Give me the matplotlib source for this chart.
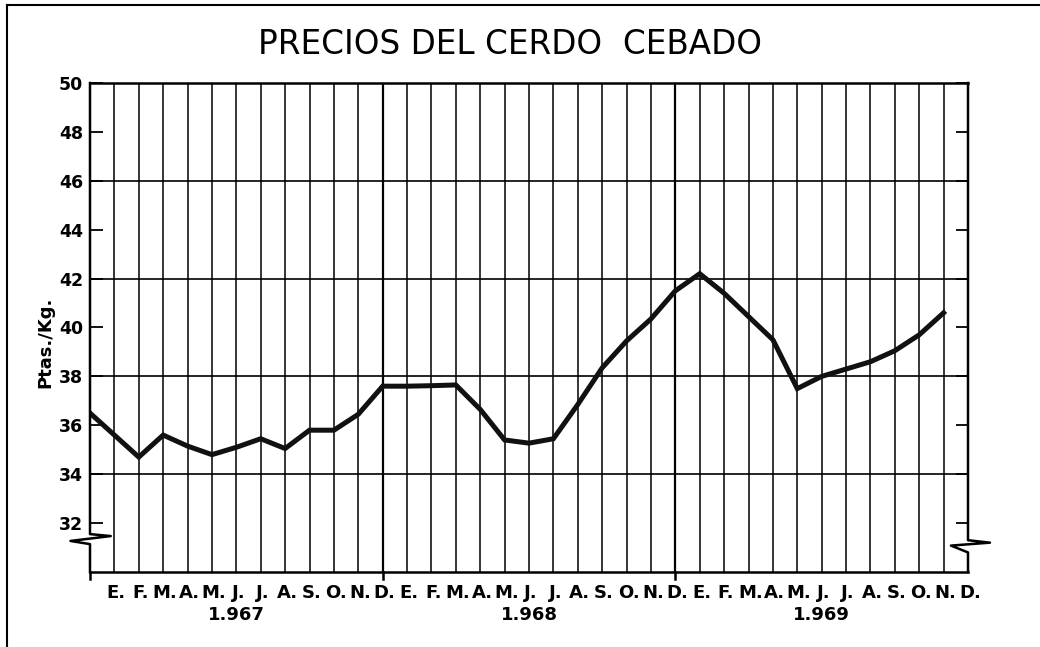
import numpy as np
import matplotlib
matplotlib.use("Agg")
import matplotlib.pyplot as plt
import matplotlib.transforms as mtransforms

# Datos: precio mensual (Ptas./Kg.), desde dic. 1966 hasta nov. 1969
precios = [36.5, 35.6, 34.7, 35.6, 35.15, 34.8, 35.1, 35.45, 35.05, 35.8, 35.8, 36.45,
           37.6, 37.6, 37.62, 37.65, 36.65, 35.4, 35.27, 35.45, 36.85, 38.35, 39.45, 40.35,
           41.5, 42.2, 41.4, 40.45, 39.5, 37.5, 38.0, 38.3, 38.6, 39.05, 39.7, 40.6]
meses = ['E.', 'F.', 'M.', 'A.', 'M.', 'J.', 'J.', 'A.', 'S.', 'O.', 'N.', 'D.']
anios = ['1.967', '1.968', '1.969']
y_ticks = [32, 34, 36, 38, 40, 42, 44, 46, 48, 50]
y_grid = [34, 38, 42, 46]

n_meses = len(meses) * len(anios)
x = np.arange(len(precios))

fig = plt.figure(figsize=(10.4, 6.47), dpi=100)
ax = fig.add_axes([90 / 1040, 1 - 572 / 647, 878 / 1040, 489 / 647])
ax.set_xlim(0, n_meses)
ax.set_ylim(30, 50)

# rejilla
for i in range(1, n_meses):
    lw = 1.6 if i % 12 == 0 else 1.1
    ax.axvline(i, color='black', lw=lw, zorder=1)
for v in y_grid:
    ax.axhline(v, color='black', lw=1.2, zorder=1)

# marcas de año que salen por debajo del eje
for i in [0, 12, 24]:
    ax.plot([i, i], [30, 29.7], color='black', lw=1.8, clip_on=False)

ax.plot(x, precios, color='#111111', lw=3.6, solid_joinstyle='miter', zorder=3)

# bordes con corte del eje
for s in ['left', 'right']:
    ax.spines[s].set_visible(False)
ax.spines['top'].set_linewidth(1.8)
ax.spines['bottom'].set_linewidth(1.8)
ax.plot([0, 0, 0.85, -0.8, 0, 0], [50, 31.55, 31.47, 31.27, 31.14, 30],
        color='black', lw=1.8, clip_on=False, zorder=4)
ax.plot([36, 36, 36.9, 35.3, 36, 36], [50, 31.3, 31.2, 31.08, 30.8, 30],
        color='black', lw=1.8, clip_on=False, zorder=4)

ax.set_yticks(y_ticks)
ax.set_yticklabels([str(v) for v in y_ticks])
ax.tick_params(axis='y', direction='in', length=9, width=1.3, right=True,
               labelsize=12.5, pad=5)
for t in ax.get_yticklabels():
    t.set_fontweight('bold')
ax.set_xticks([])

trans = mtransforms.blended_transform_factory(ax.transData, fig.transFigure)
for i in range(1, n_meses + 1):
    ax.text(i + 0.08, 1 - 593 / 647, meses[(i - 1) % 12], transform=trans,
            ha='center', va='center', fontsize=13, fontweight='bold')
for k, a in enumerate(anios):
    ax.text(6 + 12 * k, 1 - 615 / 647, a, transform=trans,
            ha='center', va='center', fontsize=13, fontweight='bold')

fig.text(45 / 1040, 1 - 342 / 647, 'Ptas./Kg.', rotation=90, ha='center', va='center',
         fontsize=13, fontweight='bold')
fig.text(510 / 1040, 1 - 45 / 647, 'PRECIOS DEL CERDO  CEBADO', ha='center', va='center',
         fontsize=23.5)

# marco de la página
fig.add_artist(plt.Line2D([7 / 1040, 1], [1 - 5 / 647, 1 - 5 / 647], color='black', lw=1.5))
fig.add_artist(plt.Line2D([7 / 1040, 7 / 1040], [0, 1 - 5 / 647], color='black', lw=1.5))

fig.savefig('out.png', dpi=100)
